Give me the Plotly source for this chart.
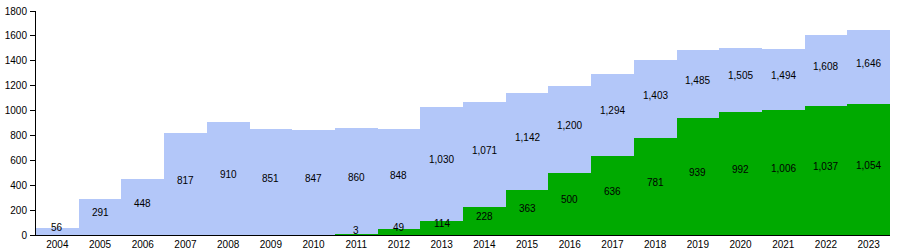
import plotly.graph_objects as go

years = list(range(2004, 2024))
total = [56, 291, 448, 817, 910, 851, 847, 860, 848, 1030, 1071, 1142, 1200, 1294, 1403, 1485, 1505, 1494, 1608, 1646]
green = [0, 0, 0, 0, 0, 0, 0, 3, 49, 114, 228, 363, 500, 636, 781, 939, 992, 1006, 1037, 1054]
y_ticks = [0, 200, 400, 600, 800, 1000, 1200, 1400, 1600, 1800]

BLUE = "#B3C7F9"
GREEN = "#00AA00"

fig = go.Figure()
fig.add_trace(go.Bar(x=years, y=total, width=1, marker=dict(color=BLUE, line=dict(width=0)), hoverinfo="x+y"))
fig.add_trace(go.Bar(x=years, y=green, width=1, marker=dict(color=GREEN, line=dict(width=0)), hoverinfo="x+y"))

font = dict(family="Liberation Sans, Arial, sans-serif", size=10, color="#000")
anns = []
for yr, t, g in zip(years, total, green):
    anns.append(dict(x=yr, y=(t + g) / 2, text=f"{t:,}", showarrow=False, font=font, yshift=4))
    if g > 0:
        anns.append(dict(x=yr, y=g / 2, text=f"{g:,}", showarrow=False, font=font, yshift=4))

fig.update_layout(
    width=908, height=250,
    margin=dict(l=36, r=18, t=11, b=15, autoexpand=False),
    paper_bgcolor="white", plot_bgcolor="white",
    barmode="overlay", bargap=0, showlegend=False,
    annotations=anns,
    font=font,
    xaxis=dict(range=[2003.5, 2023.5], tickmode="array", tickvals=years, ticktext=[str(y) for y in years],
               showgrid=False, zeroline=False, showline=True, linecolor="#000", linewidth=1,
               ticks="", tickfont=font, ticklabelstandoff=0, automargin=False),
    yaxis=dict(range=[0, 1800], tickmode="array", tickvals=y_ticks, ticktext=[str(v) for v in y_ticks],
               showgrid=False, zeroline=False, showline=True, linecolor="#000", linewidth=1,
               ticks="outside", ticklen=5, tickcolor="#000", tickfont=font, ticklabelstandoff=1,
               automargin=False),
)

fig.write_html("out.html")
